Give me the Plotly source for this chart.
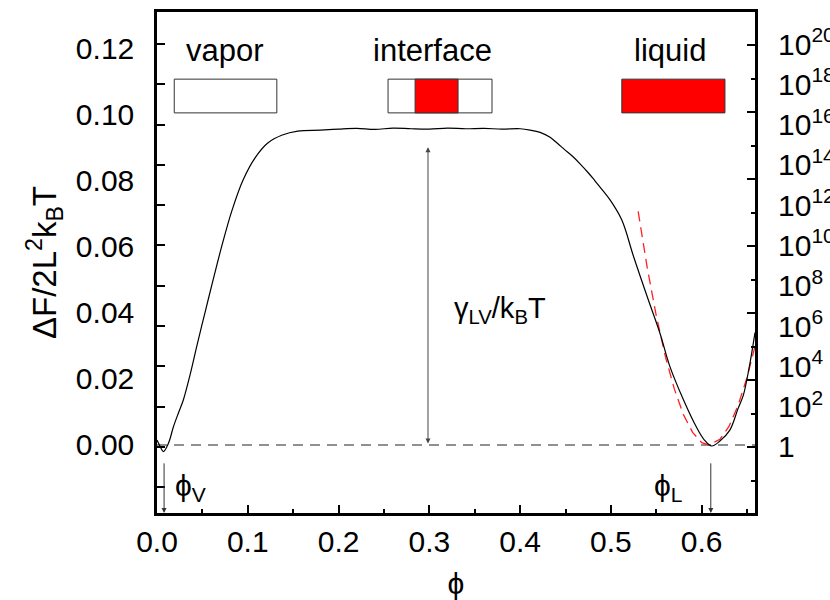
import plotly.graph_objects as go

# Free-energy profile dF/(2L^2 kBT) versus packing fraction phi
phi = [0.000, 0.0036, 0.0070, 0.0126, 0.0181, 0.0235, 0.0290, 0.0364, 0.0441, 0.0530,
       0.0618, 0.0717, 0.0827, 0.0948, 0.108, 0.122, 0.138, 0.155, 0.180, 0.200,
       0.220, 0.240, 0.260, 0.280, 0.300, 0.320, 0.340, 0.360, 0.380, 0.400,
       0.411, 0.422, 0.433, 0.441, 0.449, 0.458, 0.466, 0.475, 0.482, 0.490,
       0.499, 0.512, 0.525, 0.540, 0.554, 0.565, 0.580, 0.594, 0.603, 0.611,
       0.620, 0.631, 0.640, 0.6458, 0.652, 0.6587]
dF = [0.0015, -0.0005, -0.0020, 0.0005, 0.0055, 0.0096, 0.0136, 0.0212, 0.0302, 0.0402,
      0.0499, 0.0605, 0.0710, 0.0801, 0.0868, 0.0913, 0.0937, 0.0949, 0.0952, 0.0955,
      0.0957, 0.0954, 0.0958, 0.0956, 0.0955, 0.0958, 0.0956, 0.0957, 0.0955, 0.0956,
      0.0952, 0.0945, 0.0930, 0.0912, 0.0893, 0.0872, 0.0850, 0.0823, 0.0800, 0.0773,
      0.0741, 0.0680, 0.0569, 0.0448, 0.0338, 0.0237, 0.0136, 0.0055, 0.0015, -0.0003,
      0.0012, 0.0045, 0.0110, 0.0150, 0.0230, 0.0340]

# Quadratic approximation around the liquid minimum
phi_fit = [0.530, 0.540, 0.550, 0.560, 0.570, 0.580, 0.590, 0.600, 0.608,
           0.620, 0.630, 0.640, 0.650, 0.6587]
dF_fit = [0.0706, 0.0536, 0.0390, 0.0267, 0.0168, 0.0091, 0.0038, 0.0007, 0.0,
          0.0017, 0.0056, 0.0119, 0.0205, 0.0298]

# Axis ticks
x_ticks = [0.0, 0.1, 0.2, 0.3, 0.4, 0.5, 0.6]
x_labels = ["0.0", "0.1", "0.2", "0.3", "0.4", "0.5", "0.6"]
y_ticks = [0.00, 0.02, 0.04, 0.06, 0.08, 0.10, 0.12]
y_labels = ["0.00", "0.02", "0.04", "0.06", "0.08", "0.10", "0.12"]
log_exps = [0, 2, 4, 6, 8, 10, 12, 14, 16, 18, 20]
log_labels = ["1"] + ["10<sup>%d</sup>" % e for e in log_exps[1:]]

# Characteristic positions
phi_V = 0.0078
phi_L = 0.610
phi_gamma = 0.2985
gamma_top = 0.0900

# Phase sketches
box_y = (0.1004, 0.1106)
vapor_box = (0.019, 0.132)
interface_box = (0.2545, 0.369)
interface_core = (0.2843, 0.3316)
liquid_box = (0.512, 0.6256)

FONT = "Liberation Sans, Arial, Helvetica, sans-serif"
XR = [0.0, 0.6587]
YR = [-0.02056, 0.1309]
LOGR = [-3.28, 21.59]
YR4 = [-0.0197, 0.1299]

fig = go.Figure()
fig.add_trace(go.Scatter(x=[XR[0], XR[1]], y=[0, 0], mode="lines",
                         line=dict(color="#222", width=1.2, dash="10px,7px"),
                         hoverinfo="skip", showlegend=False))
fig.add_trace(go.Scatter(x=phi_fit, y=dF_fit, mode="lines",
                         line=dict(color="#ff2020", width=1.3, dash="10px,6px"),
                         showlegend=False))
fig.add_trace(go.Scatter(x=phi, y=dF, mode="lines", line_shape="spline",
                         line=dict(color="black", width=1.2), showlegend=False))
# empty traces so the auxiliary axes get drawn
for ax in ("y2", "y3", "y4"):
    fig.add_trace(go.Scatter(x=[None], y=[None], yaxis=ax, mode="lines",
                             showlegend=False, hoverinfo="skip"))

# phase boxes
shapes = []
for (x0, x1), fill in [(vapor_box, "white"), (interface_box, "white"),
                       (interface_core, "#ff0000"), (liquid_box, "#ff0000")]:
    shapes.append(dict(type="rect", xref="x", yref="y", x0=x0, x1=x1,
                       y0=box_y[0], y1=box_y[1], fillcolor=fill,
                       line=dict(color="#333", width=1)))
fig.update_layout(shapes=shapes)

ann = []
for txt, xx in [("vapor", 0.075), ("interface", 0.304), ("liquid", 0.565)]:
    ann.append(dict(x=xx, y=0.1194, xref="x", yref="y", text=txt, showarrow=False,
                    font=dict(size=31, color="black", family=FONT)))
ann.append(dict(x=0.0365, y=-0.0127, xref="x", yref="y", text="ϕ<sub>V</sub>",
                showarrow=False, font=dict(size=30, color="black", family=FONT)))
ann.append(dict(x=0.563, y=-0.0127, xref="x", yref="y", text="ϕ<sub>L</sub>",
                showarrow=False, font=dict(size=30, color="black", family=FONT)))
ann.append(dict(x=0.378, y=0.0408, xref="x", yref="y", text="γ<sub>LV</sub>/k<sub>B</sub>T",
                showarrow=False, font=dict(size=29, color="black", family=FONT)))
# arrows
for xx in (phi_V, phi_L):
    ann.append(dict(x=xx, y=YR[0], ax=xx, ay=-0.0051, xref="x", yref="y", axref="x", ayref="y",
                    text="", showarrow=True, arrowhead=2, arrowsize=1, arrowwidth=1,
                    arrowcolor="#333"))
ann.append(dict(x=phi_gamma, y=gamma_top, ax=phi_gamma, ay=0.0, xref="x", yref="y",
                axref="x", ayref="y", text="", showarrow=True, arrowhead=2,
                arrowside="end+start", arrowsize=1, arrowwidth=1, arrowcolor="#444"))
fig.update_layout(annotations=ann)

tickfont = dict(size=30, color="black", family=FONT)
fig.update_layout(
    template="none",
    width=830, height=600,
    margin=dict(l=157, r=75, t=12, b=87, autoexpand=False),
    paper_bgcolor="white", plot_bgcolor="white",
    font=dict(family=FONT, color="black"),
    showlegend=False,
    xaxis=dict(range=XR, tickvals=x_ticks, ticktext=x_labels, ticks="inside",
               ticklen=8, tickwidth=1.5, tickcolor="black", automargin=False,
               minor=dict(tickvals=[0.05, 0.15, 0.25, 0.35, 0.45, 0.55, 0.65],
                          ticks="inside", ticklen=4, tickwidth=1.5, tickcolor="black"),
               showline=True, linewidth=2.5, linecolor="black", mirror=True,
               showgrid=False, zeroline=False, tickfont=tickfont,
               title=dict(text="ϕ", font=dict(size=30, family=FONT), standoff=22)),
    yaxis=dict(range=YR, tickvals=y_ticks, ticktext=y_labels, ticks="",
               showline=True, linewidth=2.5, linecolor="black", mirror=True,
               showgrid=False, zeroline=False, tickfont=tickfont, automargin=False,
               ticklabelstandoff=14,
               title=dict(text="ΔF/2L<sup>2</sup>k<sub>B</sub>T",
                          font=dict(size=33, family=FONT), standoff=10)),
    yaxis2=dict(overlaying="y", side="right", type="log", range=LOGR,
                tickvals=[10.0 ** e for e in log_exps], ticktext=log_labels,
                ticks="", showgrid=False, zeroline=False, showline=False,
                tickfont=tickfont, ticklabelstandoff=22, automargin=False),
    yaxis3=dict(overlaying="y", side="left", type="log", range=LOGR,
                tickvals=[10.0 ** e for e in [-2] + log_exps], ticks="inside",
                ticklen=8, tickwidth=1.5, tickcolor="black", showticklabels=False,
                showgrid=False, zeroline=False, showline=False, automargin=False),
    yaxis4=dict(overlaying="y", side="right", range=YR4, tickvals=y_ticks,
                ticks="inside", ticklen=8, tickwidth=1.5, tickcolor="black",
                minor=dict(tickvals=[-0.01, 0.01, 0.03, 0.05, 0.07, 0.09, 0.11],
                           ticks="inside", ticklen=4, tickwidth=1.5, tickcolor="black"),
                showticklabels=False, showgrid=False, zeroline=False, showline=False,
                automargin=False),
)

fig.write_html("out.html")
